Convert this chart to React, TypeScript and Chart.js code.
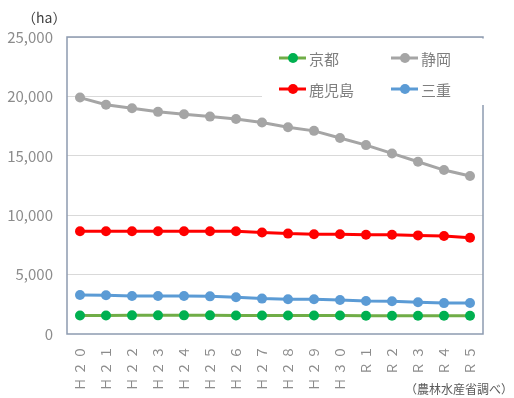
import React, { useEffect, useRef } from "react";
import { Chart, registerables } from "chart.js";

Chart.register(...registerables);

const categories = ["Ｈ ２ ０", "Ｈ ２ １", "Ｈ ２ ２", "Ｈ ２ ３", "Ｈ ２ ４", "Ｈ ２ ５", "Ｈ ２ ６", "Ｈ ２ ７", "Ｈ ２ ８", "Ｈ ２ ９", "Ｈ ３ ０", "Ｒ １", "Ｒ ２", "Ｒ ３", "Ｒ ４", "Ｒ ５"];
const kyoto = [1560, 1560, 1570, 1570, 1570, 1570, 1560, 1560, 1560, 1560, 1550, 1540, 1540, 1540, 1530, 1530];
const shizuoka = [19900, 19300, 19000, 18700, 18500, 18300, 18100, 17800, 17400, 17100, 16500, 15900, 15200, 14500, 13800, 13300];
const kagoshima = [8650, 8650, 8650, 8650, 8650, 8650, 8650, 8550, 8450, 8400, 8400, 8350, 8350, 8300, 8250, 8100];
const mie = [3280, 3260, 3200, 3200, 3200, 3170, 3100, 2980, 2920, 2920, 2860, 2780, 2750, 2670, 2600, 2610];
const yTicks = [0, 5000, 10000, 15000, 20000, 25000];
const unitLabel = "（ha）";
const sourceLabel = "（農林水産省調べ）";

const FONT = "'Noto Sans CJK JP', 'Noto Sans', sans-serif";

export default function App() {
  const ref = useRef<HTMLCanvasElement | null>(null);
  useEffect(() => {
    document.body.style.margin = "0";
    const canvas = ref.current!;
    const framePlugin = {
      id: "frameLegend",
      beforeDatasetsDraw(chart: any) {
        const { ctx, chartArea: a } = chart;
        ctx.save();
        ctx.strokeStyle = "#8D9BB0";
        ctx.lineWidth = 1.5;
        ctx.strokeRect(a.left, a.top, a.right - a.left, a.bottom - a.top);
        ctx.restore();
      },
      afterDatasetsDraw(chart: any) {
        const { ctx, chartArea: a } = chart;
        ctx.save();
        // legend box
        ctx.fillStyle = "#FFFFFF";
        ctx.fillRect(262, a.top + 1.5, a.right - 262 + 4, 105 - a.top - 1.5);
        const ds = chart.data.datasets;
        ds.forEach((d: any, k: number) => {
          const col = k % 2;
          const row = Math.floor(k / 2);
          const x0 = 279 + col * 112;
          const y = 58 + row * 31;
          ctx.strokeStyle = d.borderColor;
          ctx.lineWidth = 3;
          ctx.beginPath();
          ctx.moveTo(x0, y);
          ctx.lineTo(x0 + 27, y);
          ctx.stroke();
          ctx.fillStyle = d.pointBackgroundColor;
          ctx.beginPath();
          ctx.arc(x0 + 14, y, 5, 0, Math.PI * 2);
          ctx.fill();
          ctx.fillStyle = "#7F7F7F";
          ctx.font = `15px ${FONT}`;
          ctx.textBaseline = "middle";
          ctx.textAlign = "left";
          ctx.fillText(d.label, x0 + 30, y + 1);
        });
        // unit label
        ctx.fillStyle = "#404040";
        ctx.font = `14px ${FONT}`;
        ctx.textAlign = "left";
        ctx.textBaseline = "middle";
        ctx.fillText(unitLabel, 22, 18);
        // source
        ctx.fillStyle = "#595959";
        ctx.font = `12px ${FONT}`;
        ctx.textAlign = "right";
        ctx.fillText(sourceLabel, 513, 389);
        ctx.restore();
      },
    };
    const mk = (label: string, data: number[], line: string, point: string) => ({
      label,
      data,
      borderColor: line,
      backgroundColor: point,
      pointBackgroundColor: point,
      pointBorderColor: point,
      pointRadius: 5,
      pointBorderWidth: 0,
      borderWidth: 3,
      tension: 0,
    });
    const chart = new Chart(canvas, {
      type: "line",
      data: {
        labels: categories,
        datasets: [
          mk("京都", kyoto, "#70AD47", "#00B050"),
          mk("静岡", shizuoka, "#A5A5A5", "#A5A5A5"),
          mk("鹿児島", kagoshima, "#FF0000", "#FF0000"),
          mk("三重", mie, "#5B9BD5", "#5B9BD5"),
        ],
      },
      options: {
        animation: false,
        responsive: false,
        layout: { padding: { top: 37, right: 31, left: 0, bottom: 0 } },
        plugins: { legend: { display: false }, tooltip: { enabled: false } },
        scales: {
          x: {
            offset: true,
            grid: { display: false, drawTicks: false },
            border: { display: false },
            ticks: {
              minRotation: 90,
              maxRotation: 90,
              autoSkip: false,
              padding: 12,
              color: "#8C8C8C",
              font: { family: FONT, size: 13 },
            },
            afterFit(scale: any) {
              scale.height = 398 - 334;
            },
          },
          y: {
            min: 0,
            max: 25000,
            afterBuildTicks(scale: any) {
              scale.ticks = yTicks.map((v) => ({ value: v }));
            },
            grid: {
              color: (c: any) => (c.tick && c.tick.value === 0 ? "rgba(0,0,0,0)" : "#D9D9D9"),
              lineWidth: 1,
              drawTicks: false,
            },
            border: { display: false },
            ticks: {
              padding: 14,
              color: "#8C8C8C",
              font: { family: FONT, size: 15 },
              callback: (v: any) => Number(v).toLocaleString("en-US"),
            },
            afterFit(scale: any) {
              scale.width = 67;
            },
          },
        },
      },
      plugins: [framePlugin],
    } as any);
    return () => chart.destroy();
  }, []);
  return (
    <div style={{ position: "absolute", left: 0, top: 0, width: 514, height: 398 }}>
      <canvas ref={ref} width={514} height={398} style={{ width: 514, height: 398 }} />
    </div>
  );
}
